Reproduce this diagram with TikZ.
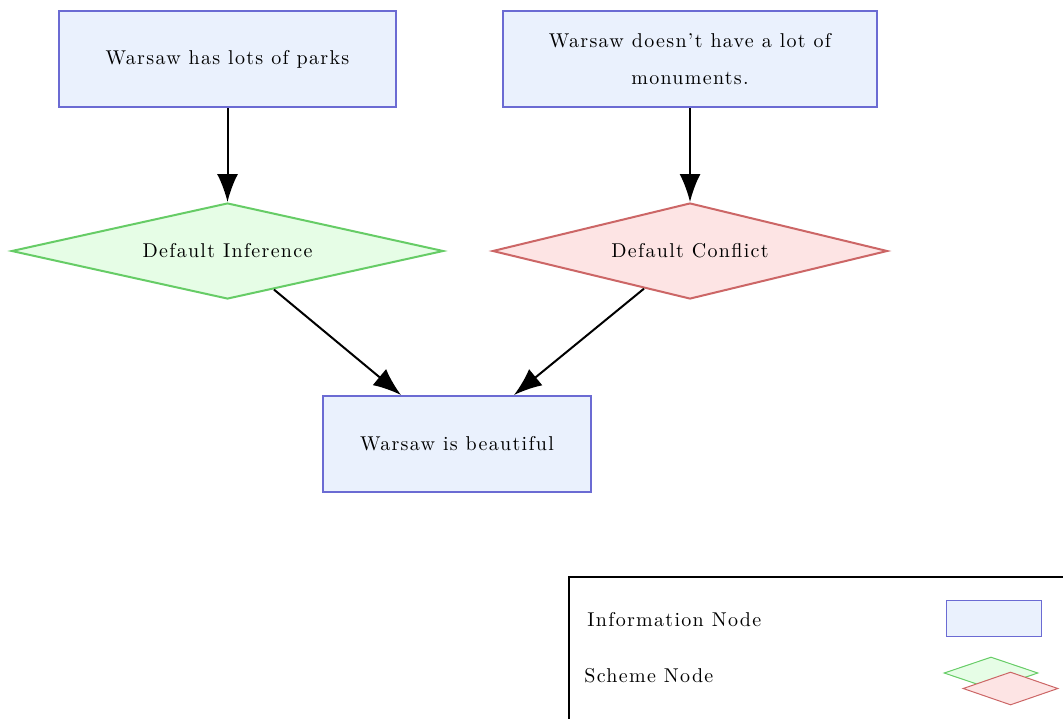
\documentclass[tikz,border=0pt]{standalone}
\usepackage{fontspec}
\setmainfont{Latin Modern Roman}[LetterSpace=6.5]
\usetikzlibrary{shapes.geometric,arrows.meta}
\definecolor{infofill}{HTML}{EAF1FD}
\definecolor{infoline}{HTML}{6B6BD3}
\definecolor{inffill}{HTML}{E6FDE6}
\definecolor{infline}{HTML}{66CC66}
\definecolor{conffill}{HTML}{FDE4E4}
\definecolor{confline}{HTML}{CC6666}
\begin{document}
\begin{tikzpicture}[x=0.5pt,y=-0.5pt,%
% common options for information nodes:
inode/.style = {draw=infoline, fill=infofill, line width=1pt, align=center,
            minimum height=48pt, inner sep=0},
% common options for scheme nodes:
snode/.style = {diamond, aspect=4.5, line width=1pt, align=center,
            minimum height=48pt, inner sep=0},
% arrows between nodes:
link/.style = {-{Latex[length=14pt,width=10.5pt]}, line width=1pt}]
\useasboundingbox (0,0) rectangle (1063,718);
\node[inode,minimum width=168.5pt] (I1) at (227.5,59) {Warsaw has lots of parks};
\node[inode,minimum width=187pt] (I2) at (690,59) {Warsaw doesn't have a lot of\\[6.5pt]monuments.};
\node[snode,draw=infline,fill=inffill,minimum width=216pt] (S1) at (227.5,251) {Default Inference};
\node[snode,draw=confline,fill=conffill,minimum width=197.5pt] (S2) at (690,251) {Default Conflict};
\node[inode,minimum width=134pt] (I3) at (457,444) {Warsaw is beautiful};
\draw[link] (I1) -- (S1);
\draw[link] (I2) -- (S2);
\draw[link] (S1) -- ([xshift=-28pt]I3.north);
\draw[link] (S2) -- ([xshift=28.5pt]I3.north);
% legend
\draw[line width=0.7pt] (569,730) -- (569,577) -- (1075,577);
\node[anchor=west,inner sep=0] (L1) at (587,620) {Information Node};
\node[anchor=west,inner sep=0] (L2) at (584,676) {Scheme Node};
\node[draw=infoline,fill=infofill,line width=0.5pt,minimum width=47.5pt,minimum height=18pt,inner sep=0] (K1) at (993.5,618) {};
\node[snode,draw=infline,fill=inffill,line width=0.5pt,minimum width=47pt,minimum height=16pt] (K2) at (991,673) {};
\node[snode,draw=confline,fill=conffill,line width=0.5pt,minimum width=47.5pt,minimum height=16.5pt] (K3) at (1010.5,688.5) {};
\end{tikzpicture}
\end{document}
